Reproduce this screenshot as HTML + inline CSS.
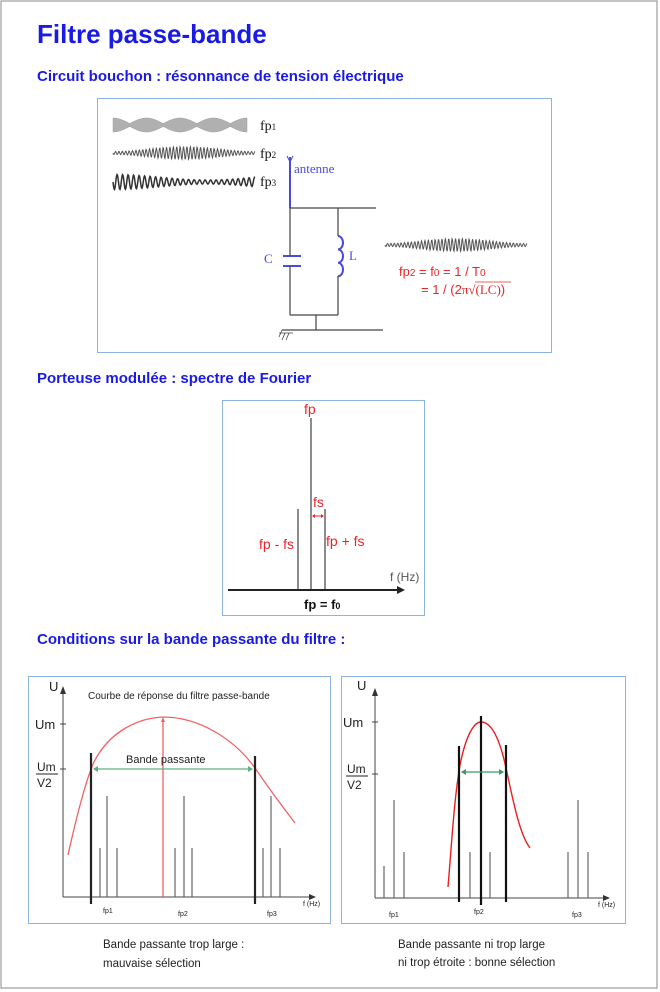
<!DOCTYPE html>
<html><head><meta charset="utf-8"><style>
html,body{margin:0;padding:0;background:#fff}
svg{display:block;font-family:"Liberation Sans",sans-serif}
</style></head><body>
<svg id="s" width="660" height="992" viewBox="0 0 660 992" xmlns="http://www.w3.org/2000/svg">
<rect x="1" y="1" width="656" height="987" fill="#fff" stroke="#888" stroke-width="1"/>
<text x="37" y="43" font-size="26" font-weight="bold" fill="#1a1ae6">Filtre passe-bande</text>
<text x="37" y="81" font-size="15" font-weight="bold" fill="#1a1ae6">Circuit bouchon : résonnance de  tension électrique</text>
<text x="37" y="383" font-size="15" font-weight="bold" fill="#1a1ae6">Porteuse modulée : spectre de Fourier</text>
<text x="37" y="644" font-size="15" font-weight="bold" fill="#1a1ae6">Conditions sur la bande passante du filtre :</text>

<!-- box1 -->
<rect x="97.5" y="98.5" width="454" height="254" fill="none" stroke="#8db3e2"/>
<g id="waves"></g>
<g font-family="Liberation Serif,serif" font-size="14" fill="#111">
<text x="260" y="130">fp<tspan font-size="9">1</tspan></text>
<text x="260" y="158">fp<tspan font-size="9">2</tspan></text>
<text x="260" y="186">fp<tspan font-size="9">3</tspan></text>
</g>
<g stroke="#4a4adf" stroke-width="2" fill="none">
<line x1="290" y1="157" x2="290" y2="208"/>
<path d="M287 156 L290 162 L293 156" stroke-width="1"/>
<line x1="283" y1="256" x2="301" y2="256"/><line x1="283" y1="266" x2="301" y2="266"/>
<path d="M338 236 a5 6.7 0 0 1 0 13.4 a5 6.7 0 0 1 0 13.4 a5 6.7 0 0 1 0 13.4"/>
</g>
<text x="294" y="173" font-family="Liberation Serif,serif" font-size="13" fill="#4a4adf">antenne</text>
<text x="264" y="263" font-family="Liberation Serif,serif" font-size="13" fill="#4a4adf">C</text>
<text x="349" y="260" font-family="Liberation Serif,serif" font-size="13" fill="#4a4adf">L</text>
<g stroke="#444" stroke-width="1.2" fill="none">
<line x1="290" y1="208" x2="376" y2="208"/>
<line x1="290" y1="208" x2="290" y2="256"/><line x1="290" y1="266" x2="290" y2="315"/>
<line x1="338" y1="208" x2="338" y2="236"/><line x1="338" y1="276" x2="338" y2="315"/>
<line x1="290" y1="315" x2="338" y2="315"/>
<line x1="316" y1="315" x2="316" y2="330"/>
<line x1="282" y1="330" x2="383" y2="330"/>
<path d="M282 330 L279 337 M285 333 L282 340 M289 333 L286 340 M279 333 L293 333" stroke-width="0.8"/>
</g>
<g fill="#e8262a" font-size="13">
<text x="399" y="276">fp<tspan font-size="10">2</tspan> = f<tspan font-size="10">0</tspan> = 1 / T<tspan font-size="10">0</tspan></text>
<text x="421" y="294">= 1 / (2<tspan font-family="Liberation Serif,serif">π√(LC)</tspan>)</text>
</g>
<line x1="475" y1="282" x2="511" y2="282" stroke="#e8262a" stroke-width="0.8"/>

<!-- box2 -->
<rect x="222.5" y="400.5" width="202" height="215" fill="none" stroke="#8db3e2"/>
<g stroke="#666" stroke-width="1.5">
<line x1="311" y1="418" x2="311" y2="590"/>
<line x1="298" y1="509" x2="298" y2="590"/>
<line x1="325" y1="509" x2="325" y2="590"/>
</g>
<line x1="228" y1="590" x2="398" y2="590" stroke="#222" stroke-width="2"/>
<path d="M397 586 L405 590 L397 594Z" fill="#222"/>
<line x1="313" y1="516" x2="323" y2="516" stroke="#e8262a"/>
<path d="M312 516 l3 -2 v4z M324 516 l-3 -2 v4z" fill="#e8262a"/>
<g fill="#e8262a" font-size="14">
<text x="304" y="414">fp</text>
<text x="313" y="507">fs</text>
<text x="259" y="549">fp - fs</text>
<text x="326" y="546">fp + fs</text>
</g>
<text x="390" y="581" font-size="12" fill="#555">f (Hz)</text>
<text x="304" y="609" font-size="13" font-weight="bold" fill="#111">fp = f<tspan font-size="9">0</tspan></text>

<!-- box3 -->
<rect x="28.5" y="676.5" width="302" height="247" fill="none" stroke="#8db3e2"/>
<g stroke="#444" stroke-width="1">
<line x1="63" y1="692" x2="63" y2="897"/><line x1="63" y1="897" x2="311" y2="897"/>
<line x1="60" y1="724" x2="66" y2="724"/><line x1="60" y1="769" x2="66" y2="769"/>
</g>
<path d="M60 694 L63 686 L66 694Z M309 894 L316 897 L309 900Z" fill="#333"/>
<path d="M68 855 C78 810 86 780 94 762 C110 730 140 718 163 717 C200 717 235 740 255 768 C270 790 285 810 295 823" fill="none" stroke="#f06262" stroke-width="1.3"/>
<line x1="163" y1="719" x2="163" y2="897" stroke="#f06262" stroke-width="1.3"/>
<path d="M161 722 L163 717 L165 722Z" fill="#f06262"/>
<g stroke="#222" stroke-width="2.2"><line x1="91" y1="753" x2="91" y2="904"/><line x1="255" y1="756" x2="255" y2="904"/></g>
<line x1="94" y1="769" x2="252" y2="769" stroke="#5cb083" stroke-width="1.3"/>
<path d="M93 769 l5 -3 v6z M253 769 l-5 -3 v6z" fill="#5cb083"/>
<g stroke="#666" stroke-width="1.2">
<line x1="100" y1="848" x2="100" y2="897"/><line x1="107" y1="796" x2="107" y2="897"/><line x1="117" y1="848" x2="117" y2="897"/>
<line x1="175" y1="848" x2="175" y2="897"/><line x1="184" y1="796" x2="184" y2="897"/><line x1="192" y1="848" x2="192" y2="897"/>
<line x1="263" y1="848" x2="263" y2="897"/><line x1="271" y1="796" x2="271" y2="897"/><line x1="280" y1="848" x2="280" y2="897"/>
</g>
<g fill="#222">
<text x="49" y="691" font-size="13">U</text>
<text x="35" y="729" font-size="13">Um</text>
<text x="37" y="771" font-size="12">Um</text><line x1="36" y1="774" x2="58" y2="774" stroke="#222"/><text x="37" y="787" font-size="12">V2</text>
<text x="88" y="699" font-size="10">Courbe de réponse du filtre passe-bande</text>
<text x="126" y="763" font-size="11">Bande passante</text>
<text x="103" y="913" font-size="7">fp1</text><text x="178" y="916" font-size="7">fp2</text><text x="267" y="916" font-size="7">fp3</text>
<text x="303" y="906" font-size="7">f (Hz)</text>
</g>

<!-- box4 -->
<rect x="341.5" y="676.5" width="284" height="247" fill="none" stroke="#8db3e2"/>
<g stroke="#444" stroke-width="1">
<line x1="375" y1="694" x2="375" y2="898"/><line x1="375" y1="898" x2="605" y2="898"/>
<line x1="372" y1="722" x2="378" y2="722"/><line x1="372" y1="774" x2="378" y2="774"/>
</g>
<path d="M372 696 L375 688 L378 696Z M603 895 L610 898 L603 901Z" fill="#333"/>
<path d="M448 887 C452 840 454 800 460 765 C466 735 474 722 481 722 C492 722 500 740 506 768 C514 805 520 835 530 848" fill="none" stroke="#e82020" stroke-width="1.4"/>
<g stroke="#111" stroke-width="2.2"><line x1="459" y1="746" x2="459" y2="902"/><line x1="481" y1="716" x2="481" y2="905"/><line x1="506" y1="745" x2="506" y2="902"/></g>
<line x1="462" y1="772" x2="503" y2="772" stroke="#3d9a63" stroke-width="1.3"/>
<path d="M461 772 l5 -3 v6z M504 772 l-5 -3 v6z" fill="#3d9a63"/>
<g stroke="#666" stroke-width="1.2">
<line x1="384" y1="866" x2="384" y2="898"/><line x1="394" y1="800" x2="394" y2="898"/><line x1="404" y1="852" x2="404" y2="898"/>
<line x1="470" y1="852" x2="470" y2="898"/><line x1="490" y1="852" x2="490" y2="898"/>
<line x1="568" y1="852" x2="568" y2="898"/><line x1="578" y1="800" x2="578" y2="898"/><line x1="588" y1="852" x2="588" y2="898"/>
</g>
<g fill="#222">
<text x="357" y="690" font-size="13">U</text>
<text x="343" y="727" font-size="13">Um</text>
<text x="347" y="773" font-size="12">Um</text><line x1="346" y1="776" x2="368" y2="776" stroke="#222"/><text x="347" y="789" font-size="12">V2</text>
<text x="389" y="917" font-size="7">fp1</text><text x="474" y="914" font-size="7">fp2</text><text x="572" y="917" font-size="7">fp3</text>
<text x="598" y="907" font-size="7">f (Hz)</text>
</g>

<g fill="#222" font-size="11.5">
<text x="103" y="948">Bande passante trop large :</text>
<text x="103" y="967">mauvaise sélection</text>
<text x="398" y="948">Bande passante ni trop large</text>
<text x="398" y="966">ni trop étroite : bonne sélection</text>
</g>
</svg>
<script>
(function(){
var g=document.getElementById('waves'),ns='http://www.w3.org/2000/svg';
function add(d,fill,col,sw){var p=document.createElementNS(ns,'path');p.setAttribute('d',d);p.setAttribute('fill',fill);p.setAttribute('stroke',col);p.setAttribute('stroke-width',sw);g.appendChild(p);}
function wave(x0,x1,yc,per,ampf,col,sw){
 var d='';for(var x=x0;x<=x1;x+=0.5){var t=(x-x0)/(x1-x0);var y=yc+ampf(t)*Math.sin((x-x0)/per*2*Math.PI);d+=(d?'L':'M')+x.toFixed(1)+' '+y.toFixed(2);}
 add(d,'none',col,sw);}
// fp1 filled envelope
var x0=113,x1=247,yc=125,top='',bot='';
function env(t){return 2+5*Math.abs(Math.sin(t*4*Math.PI+Math.PI/2*0));}
var pts=[];for(var x=x0;x<=x1;x+=1){var t=(x-x0)/(x1-x0);pts.push([x,1.5+5.5*Math.abs(Math.sin((t*4+0.5)*Math.PI))]);}
var d='M'+pts.map(function(p){return p[0]+' '+(yc-p[1]).toFixed(2);}).join('L');
d+='L'+pts.slice().reverse().map(function(p){return p[0]+' '+(yc+p[1]).toFixed(2);}).join('L')+'Z';
add(d,'#b0b0b0','#a0a0a0',0.5);
wave(113,255,153,3.4,function(t){return 1.5+5*Math.pow(Math.sin(t*Math.PI),2);},'#555',1);
wave(113,255,182,5.5,function(t){return 2+5.5*Math.pow(Math.cos(t*Math.PI*0.75),2);},'#333',1.5);
wave(385,527,245,3.4,function(t){return 1.5+5*Math.pow(Math.sin(t*Math.PI),2);},'#555',1);
})();
</script>
</body></html>
